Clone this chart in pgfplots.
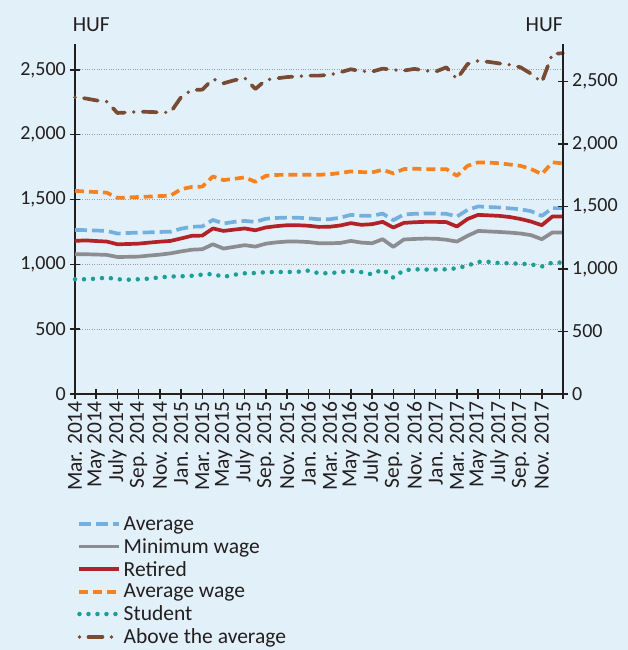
\documentclass[border=0pt]{standalone}
\usepackage{pgfplots}
\usepackage{pgfplotstable}
\pgfplotsset{compat=1.18}
\usepackage{fontspec}
\setmainfont{Carlito}
\definecolor{bg}{RGB}{226,240,249}
\definecolor{cblue}{RGB}{116,176,222}
\definecolor{cgray}{RGB}{140,140,145}
\definecolor{cred}{RGB}{178,34,38}
\definecolor{corange}{RGB}{245,130,32}
\definecolor{cteal}{RGB}{26,160,150}
\definecolor{cbrown}{RGB}{120,75,50}
\definecolor{ctext}{RGB}{35,31,32}
\definecolor{cgrid}{RGB}{160,160,160}
\pgfplotstableread{
i avg minw ret avgw stud above
0 1266 1078 1181 1567 885 2289
1 1264 1078 1185 1562 885 2280
2 1261 1076 1180 1558 890 2265
3 1258 1073 1176 1553 898 2255
4 1238 1057 1155 1513 885 2168
5 1242 1058 1157 1516 882 2172
6 1245 1060 1160 1520 885 2178
7 1247 1068 1168 1523 890 2176
8 1250 1075 1175 1527 900 2173
9 1252 1085 1181 1530 906 2172
10 1275 1100 1200 1580 908 2290
11 1290 1113 1220 1597 912 2345
12 1293 1117 1222 1600 921 2348
13 1343 1155 1277 1678 926 2430
14 1315 1122 1258 1650 903 2397
15 1328 1135 1268 1660 920 2420
16 1335 1148 1277 1671 931 2438
17 1328 1137 1263 1637 933 2353
18 1352 1160 1285 1683 940 2423
19 1358 1170 1295 1690 941 2435
20 1361 1176 1302 1691 941 2445
21 1360 1176 1302 1691 943 2450
22 1355 1172 1298 1691 952 2456
23 1348 1163 1289 1691 931 2456
24 1348 1163 1290 1695 932 2462
25 1360 1165 1300 1705 940 2482
26 1382 1181 1318 1717 949 2505
27 1375 1168 1305 1712 940 2490
28 1374 1163 1310 1709 923 2487
29 1392 1194 1328 1730 962 2510
30 1341 1135 1284 1702 898 2500
31 1385 1192 1320 1735 955 2495
32 1390 1196 1325 1738 962 2508
33 1392 1199 1328 1735 960 2495
34 1392 1198 1328 1733 960 2487
35 1390 1190 1326 1735 962 2520
36 1369 1176 1292 1683 970 2430
37 1420 1220 1350 1760 990 2545
38 1447 1258 1382 1787 1019 2570
39 1442 1254 1378 1785 1019 2562
40 1439 1250 1374 1780 1010 2550
41 1432 1245 1365 1770 1008 2540
42 1425 1238 1350 1760 1005 2520
43 1410 1225 1330 1735 1000 2470
44 1374 1194 1302 1696 983 2405
45 1434 1246 1369 1787 1014 2624
46 1434 1246 1369 1779 1014 2629
}\datatable
\begin{document}
\begin{tikzpicture}[font=\fontsize{21.5}{24}\selectfont, text=ctext]
\fill[bg] (-75pt,-256pt) rectangle (553pt,394pt);
\begin{axis}[
  scale only axis, width=488pt, height=350pt,
  xmin=0, xmax=46, ymin=0, ymax=2700,
  axis x line*=bottom, axis y line*=left,
  axis line style={-, line width=2pt, ctext},
  xtick={0,2,...,46},
  xticklabels={Mar. 2014, May 2014, July 2014, Sep. 2014, Nov. 2014, Jan. 2015, Mar. 2015, May 2015, July 2015, Sep. 2015, Nov. 2015, Jan. 2016, Mar. 2016, May 2016, July 2016, Sep. 2016, Nov. 2016, Jan. 2017, Mar. 2017, May 2017, July 2017, Sep. 2017, Nov. 2017, {}},
  x tick label style={rotate=90, anchor=east, inner sep=2pt, font=\fontsize{21.5}{24}\selectfont},
  ytick={0,500,...,2500},
  ymajorgrids, grid style={dotted, line width=1pt, cgrid},
  tick style={line width=1.5pt, ctext},
  major tick length=10pt,
  tick align=center,
  /pgf/number format/.cd, 1000 sep={,}, assume math mode=true,
  /pgfplots/.cd,
  y tick label style={inner sep=4pt, font=\fontsize{20}{23}\selectfont},
  legend style={at={(axis description cs:-0.002,-0.338)}, anchor=north west, draw=none, fill=none, row sep=2.5pt, font=\fontsize{21.5}{24}\selectfont, legend cell align=left},
  legend image code/.code={\draw[#1] (0pt,0pt) -- (40pt,0pt);},
  every axis plot/.append style={line width=3.7pt, line join=round},
  clip=false,
]
\addplot[cblue, dash pattern=on 12pt off 5pt] table[x=i, y=avg] {\datatable};
\addlegendentry{Average}
\addplot[cgray] table[x=i, y=minw] {\datatable};
\addlegendentry{Minimum wage}
\addplot[cred] table[x=i, y=ret] {\datatable};
\addlegendentry{Retired}
\addplot[corange, dash pattern=on 9pt off 5pt] table[x=i, y=avgw] {\datatable};
\addlegendentry{Average wage}
\addplot[cteal, line width=4.5pt, line cap=round, dash pattern=on 0pt off 9pt] table[x=i, y=stud] {\datatable};
\addlegendentry{Student}
\addplot[cbrown, line cap=round, dash pattern=on 0pt off 9pt on 14pt off 9pt] table[x=i, y=above] {\datatable};
\addlegendentry{Above the average}
\node[anchor=south west, inner sep=0pt] at (axis description cs:-0.005,1.035) {HUF};
\node[anchor=south east, inner sep=0pt] at (axis description cs:1.0,1.035) {HUF};
\end{axis}
\begin{axis}[
  scale only axis, width=488pt, height=350pt,
  xmin=0, xmax=46, ymin=0, ymax=2800,
  axis x line=none, axis y line*=right,
  axis line style={-, line width=2pt, ctext},
  ytick={0,500,...,2500},
  tick style={line width=1.5pt, ctext},
  major tick length=10pt,
  tick align=center,
  /pgf/number format/.cd, 1000 sep={,}, assume math mode=true,
  /pgfplots/.cd,
  y tick label style={inner sep=4pt, font=\fontsize{20}{23}\selectfont},
]
\end{axis}
\pgfresetboundingbox
\path[use as bounding box] (-75pt,-256pt) rectangle (553pt,394pt);
\end{tikzpicture}
\end{document}
